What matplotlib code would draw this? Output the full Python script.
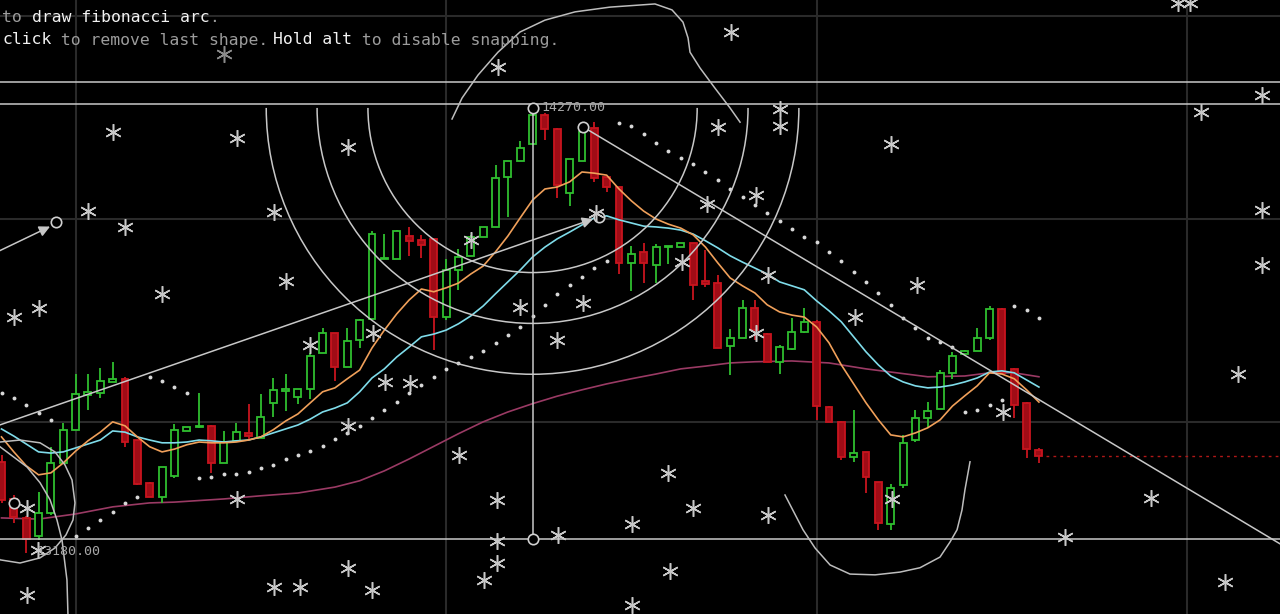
import matplotlib
matplotlib.use('Agg')
import matplotlib.pyplot as plt
from matplotlib.patches import Rectangle, Arc
import numpy as np

# ---------------- data ----------------
opens = [13375, 13281, 13233, 13188, 13246, 13372, 13456, 13544, 13549, 13577,
         13585, 13430, 13322, 13286, 13339, 13453, 13462, 13466, 13372, 13428,
         13448, 13435, 13524, 13554, 13539, 13559, 13650, 13701, 13615, 13683,
         13736, 13888, 13888, 13946, 13936, 13939, 13741, 13860, 13896, 13944,
         13969, 14095, 14136, 14179, 14252, 14217, 14055, 14136, 14219, 14095,
         14070, 13878, 13906, 13873, 13917, 13918, 13928, 13832, 13827, 13668,
         13688, 13764, 13698, 13628, 13660, 13703, 13729, 13514, 13476, 13387,
         13400, 13324, 13218, 13316, 13430, 13486, 13509, 13600, 13648, 13655,
         13688, 13762, 13610, 13524, 13405]
highs = [13392, 13291, 13238, 13299, 13413, 13473, 13597, 13597, 13612, 13628,
         13590, 13431, 13323, 13363, 13471, 13464, 13549, 13468, 13453, 13473,
         13521, 13547, 13587, 13597, 13560, 13650, 13714, 13702, 13714, 13735,
         13959, 13951, 13960, 13969, 13949, 13940, 13888, 13913, 13949, 13970,
         14126, 14137, 14186, 14270, 14257, 14218, 14142, 14234, 14234, 14096,
         14071, 13921, 13928, 13926, 13921, 13929, 13929, 13911, 13848, 13711,
         13784, 13784, 13701, 13670, 13739, 13764, 13734, 13516, 13477, 13506,
         13401, 13325, 13319, 13443, 13506, 13526, 13607, 13653, 13658, 13714,
         13769, 13763, 13611, 13525, 13410]
lows = [13271, 13220, 13145, 13178, 13241, 13369, 13455, 13506, 13537, 13576,
        13413, 13317, 13285, 13271, 13334, 13452, 13461, 13347, 13371, 13427,
        13433, 13434, 13488, 13504, 13521, 13534, 13649, 13580, 13614, 13663,
        13735, 13887, 13887, 13896, 13891, 13658, 13734, 13810, 13895, 13943,
        13968, 13994, 14135, 14178, 14189, 14042, 14022, 14135, 14083, 14057,
        13850, 13807, 13827, 13827, 13875, 13917, 13784, 13817, 13662, 13595,
        13687, 13683, 13627, 13597, 13659, 13701, 13481, 13475, 13380, 13375,
        13296, 13203, 13203, 13309, 13425, 13461, 13508, 13585, 13647, 13654,
        13683, 13599, 13486, 13385, 13372]
closes = [13279, 13236, 13180, 13246, 13372, 13456, 13547, 13552, 13580, 13585,
          13425, 13319, 13286, 13362, 13456, 13463, 13466, 13372, 13425, 13450,
          13440, 13488, 13557, 13559, 13559, 13643, 13701, 13615, 13681, 13734,
          13951, 13891, 13959, 13933, 13923, 13741, 13860, 13893, 13944, 13969,
          14093, 14136, 14169, 14252, 14217, 14075, 14141, 14209, 14093, 14070,
          13878, 13901, 13878, 13918, 13920, 13928, 13822, 13825, 13663, 13688,
          13764, 13708, 13628, 13665, 13703, 13729, 13516, 13476, 13387, 13397,
          13337, 13220, 13309, 13423, 13486, 13504, 13600, 13643, 13655, 13688,
          13762, 13600, 13519, 13407, 13390]

ma_fast = [13438, 13400, 13365, 13342, 13347, 13372, 13402, 13428, 13450, 13476,
           13466, 13438, 13413, 13400, 13407, 13418, 13425, 13423, 13423, 13425,
           13430, 13438, 13456, 13478, 13496, 13524, 13552, 13562, 13585, 13607,
           13663, 13708, 13749, 13784, 13812, 13805, 13815, 13827, 13850, 13870,
           13906, 13946, 13992, 14037, 14065, 14070, 14083, 14108, 14105, 14100,
           14065, 14035, 14009, 13989, 13976, 13966, 13949, 13918, 13878, 13840,
           13820, 13802, 13772, 13754, 13746, 13741, 13716, 13676, 13620, 13572,
           13524, 13481, 13443, 13438, 13448, 13461, 13481, 13516, 13542, 13567,
           13600, 13597, 13585, 13557, 13526]
ma_mid = [13458, 13440, 13420, 13400, 13397, 13400, 13410, 13420, 13430, 13453,
          13450, 13438, 13430, 13423, 13423, 13425, 13430, 13428, 13425, 13428,
          13430, 13438, 13448, 13458, 13468, 13483, 13501, 13511, 13524, 13552,
          13587, 13610, 13640, 13665, 13691, 13698, 13708, 13724, 13744, 13769,
          13800, 13830, 13860, 13893, 13918, 13939, 13956, 13974, 13992, 13997,
          13987, 13979, 13971, 13969, 13966, 13961, 13951, 13934, 13916, 13896,
          13880, 13865, 13850, 13830, 13820, 13810, 13782, 13757, 13729, 13691,
          13653, 13620, 13592, 13577, 13567, 13562, 13564, 13569, 13577, 13587,
          13602, 13605, 13600, 13582, 13564]
ma_long_idx = [0, 3, 6, 9, 12, 14, 18, 21, 24, 27, 29, 31, 33, 35, 37, 39, 41, 43, 45, 47,
               49, 51, 53, 55, 57, 59, 61, 64, 67, 70, 72, 75, 78, 80, 82, 84]
ma_long = [13233, 13230, 13243, 13261, 13271, 13273, 13281, 13289, 13296, 13311,
           13327, 13352, 13382, 13414, 13446, 13476, 13501, 13522, 13541, 13557,
           13572, 13585, 13597, 13610, 13617, 13625, 13628, 13630, 13625, 13610,
           13602, 13590, 13592, 13600, 13600, 13590]
nan = float('nan')
sar = [13549, 13536, 13519, 13498, 13481, nan, 13187, 13208, 13228, 13248,
       13271, 13286, 13590, 13579, 13564, 13549, 13334, 13337, 13344, 13344,
       13349, 13359, 13367, 13382, 13392, 13402, 13415, 13433, 13448, 13466,
       13486, 13506, 13526, 13549, 13569, 13590, 13610, 13625, 13640, 13655,
       13676, 13696, 13716, 13744, 13772, 13800, 13822, 13842, 13865, 13883,
       14232, 14224, 14204, 14181, 14161, 14143, 14128, 14108, 14088, 14065,
       14045, 14025, 14004, 13984, 13964, 13944, 13931, 13906, 13883, 13855,
       13830, 13802, 13772, 13739, 13714, 13688, 13678, 13665, 13501, 13506,
       13519, 13531, 13769, 13759, 13739]

star_x = [40.2, 59.07, 95.26, 96.23, 9.03, 19.07, 28.06, 58.02, 63.04, 63.04, 72.03,
          97.13, 102.07, 7.0, 10.0, 22.06, 61.09, 57.13, 48.14, 102.07, 102.07, 55.1, 62.06,
          23.04, 13.0, 1.01, 3.04, 74.13, 69.11, 41.98, 47.09, 44.98, 30.08, 24.98, 61.09,
          31.05, 33.08, 38.02, 100.12, 81.09, 28.06, 37.05, 2.07, 2.96, 2.07, 19.07, 22.06,
          24.17, 53.97, 40.12, 56.0, 72.11, 62.06, 51.05, 45.06, 40.12, 93.08, 86.12, 40.12,
          39.07, 28.06, 30.0, 54.13, 99.07, 51.05]
star_y = [14374, 14462, 14535, 14535, 14209, 14194, 14171, 14222, 14267, 14224, 14179,
          14260, 14303, 14009, 13969, 14007, 14050, 14027, 14004, 14012, 13873, 13880, 13848,
          13832, 13799, 13741, 13764, 13822, 13741, 13767, 13777, 13683, 13701, 13671, 13701,
          13577, 13574, 13936, 13597, 13501, 13466, 13392, 13258, 13152, 13038, 13281, 13058,
          13058, 13347, 13279, 13258, 13281, 13241, 13218, 13190, 13175, 13284, 13185, 13119,
          13076, 13106, 13051, 13099, 13071, 13013]
dim_star_x = [18.02]
dim_star_y = [14406]

fib_idx = 43
fib_high = 14270
fib_low = 13180
fib_ratios = [0.382, 0.5, 0.618]
hlines = [14336, 14280, 13180]
grid_x = [6, 36, 66, 96]
grid_y = [14503, 13989, 13476]

handle_x = [43, 43, 47.09, 48.38, 4.41, 1.01]
handle_y = [14270, 13180, 14222, 13994, 13982, 13271]

trend1 = ([-2.0, 47.9], [13448, 13989])
trend2 = ([-1.74, 3.93], [13885, 13970])
trend3 = ([47.09, 103.6], [14222, 13166])

curve_top_x = [36.48, 37.29, 38.58, 40.2, 41.98, 44.0, 46.44, 49.27, 52.91, 54.29, 55.18,
               55.59, 55.75, 56.56, 57.77, 58.99, 59.8]
curve_top_y = [14242, 14295, 14353, 14411, 14462, 14492, 14513, 14525, 14533, 14518, 14487,
               14447, 14411, 14371, 14320, 14270, 14234]
curve_bot_x = [63.44, 64.9, 65.87, 67.09, 68.7, 70.73, 72.75, 74.37, 75.99, 76.8, 77.37,
               77.77, 78.01, 78.42]
curve_bot_y = [13291, 13203, 13157, 13114, 13091, 13089, 13096, 13107, 13134, 13172, 13203,
               13253, 13304, 13375]
loop_x = [-1.09, -0.12, 1.5, 3.12, 4.33, 5.14, 5.71, 5.95, 5.79, 5.22, 4.33, 3.12, 1.5,
          -0.12, -1.09]
loop_y = [13418, 13425, 13430, 13423, 13400, 13367, 13329, 13271, 13228, 13190, 13157,
          13132, 13119, 13127, 13165]
tail_x = [-0.93, -0.12, 2.06, 3.12, 3.93, 4.49, 4.9, 5.3, 5.38, 5.38]
tail_y = [13430, 13413, 13362, 13322, 13279, 13228, 13177, 13076, 12990, 12962]

last_price = 13390

# ---------------- figure ----------------
W, H = 1280, 614
fig = plt.figure(figsize=(W / 100, H / 100), dpi=100, facecolor='black')
ax = fig.add_axes([0, 0, 1, 1])
ax.set_facecolor('black')
XL = (-0.1215, 103.52)
YL = (12990, 14543)
ax.set_xlim(*XL)
ax.set_ylim(*YL)
ax.axis('off')

px_x = W / (XL[1] - XL[0])
px_y = H / (YL[1] - YL[0])

GRID = '#2a2a2a'
LINE = '#c8c8c8'
GREEN = '#2fbf2f'
RED_FILL = '#a00c16'
RED_EDGE = '#c8141e'

for gx in grid_x:
    ax.axvline(gx, color=GRID, lw=1.5, zorder=0)
for gy in grid_y:
    ax.axhline(gy, color=GRID, lw=1.5, zorder=0)

# moving averages
ax.plot(ma_long_idx, ma_long, color='#9a3a64', lw=1.2, zorder=2)

# candles
w = 0.56
for i, (o, h, l, c) in enumerate(zip(opens, highs, lows, closes)):
    up = c >= o
    top, bot = max(o, c), min(o, c)
    col = GREEN if up else RED_EDGE
    ax.plot([i, i], [top, h], color=col, lw=1.3, solid_capstyle='butt', zorder=3)
    ax.plot([i, i], [l, bot], color=col, lw=1.3, solid_capstyle='butt', zorder=3)
    ax.add_patch(Rectangle((i - w / 2, bot), w, max(top - bot, 2),
                           facecolor='black' if up else RED_FILL,
                           edgecolor=col, lw=1.3, zorder=3.1))

ax.plot(range(len(ma_mid)), ma_mid, color='#7fdcea', lw=1.2, zorder=4)
ax.plot(range(len(ma_fast)), ma_fast, color='#f0a05a', lw=1.2, zorder=4)

# parabolic SAR dots
ax.plot(range(len(sar)), sar, 'o', ms=2.8, mew=0, color='#d8d8d8', zorder=4)

# last price line
ax.plot([84.6, XL[1]], [last_price, last_price], color='#b01818', lw=1.0,
        ls=(0, (2, 3)), zorder=4)

# drawings
for hy in hlines:
    ax.axhline(hy, color=LINE, lw=1.1, zorder=5)
ax.plot([fib_idx, fib_idx], [fib_low, fib_high], color=LINE, lw=1.1, zorder=5)
rng_px = (fib_high - fib_low) * px_y
for r in fib_ratios:
    rp = r * rng_px
    ax.add_patch(Arc((fib_idx, fib_high), 2 * rp / px_x, 2 * rp / px_y,
                     theta1=180, theta2=360, color=LINE, lw=1.1, zorder=5))

for tr in (trend1, trend2):
    ax.annotate('', xy=(tr[0][1], tr[1][1]), xytext=(tr[0][0], tr[1][0]),
                arrowprops=dict(arrowstyle='-|>', color=LINE, lw=1.1, mutation_scale=16,
                                shrinkA=0, shrinkB=0), zorder=5)
ax.plot(trend3[0], trend3[1], color=LINE, lw=1.1, zorder=5)

for cx, cy in [(curve_top_x, curve_top_y), (curve_bot_x, curve_bot_y),
               (loop_x, loop_y), (tail_x, tail_y)]:
    ax.plot(cx, cy, color='#bdbdbd', lw=1.1, zorder=5, solid_joinstyle='round')

ax.plot(handle_x, handle_y, 'o', ms=7.5, mfc='black', mec='#d0d0d0', mew=1.2, zorder=6)

ax.plot(star_x, star_y, marker=(6, 2, 0), ls='none', ms=12, mew=1.1,
        color='#c8c8c8', zorder=6)
ax.plot(dim_star_x, dim_star_y, marker=(6, 2, 0), ls='none', ms=12, mew=1.1,
        color='#8a8a8a', zorder=6)

# labels
ax.text(43.69, fib_high, '14270.00', color='#a8a8a8', fontsize=9.6,
        family='DejaVu Sans Mono', va='center', ha='left', zorder=7)
ax.text(2.79, 13148, '13180.00', color='#a8a8a8', fontsize=9.6,
        family='DejaVu Sans Mono', va='center', ha='left', zorder=7)

# instructions text
CW = 9.87
GRAY = '#9c9c9c'
WHITE = '#f2f2f2'
def seg(x_px, y_px, s, col):
    fig.text(x_px / W, 1 - y_px / H, s, color=col, fontsize=11.8,
             family='DejaVu Sans Mono', va='center', ha='left')

seg(2, 17, 'to ', GRAY)
seg(2 + 3 * CW, 17, 'draw fibonacci arc', WHITE)
seg(2 + 21 * CW, 17, '.', GRAY)
seg(2, 40, 'click', WHITE)
seg(2 + 5 * CW, 40, ' to remove last shape.', GRAY)
seg(273, 40, 'Hold alt', WHITE)
seg(273 + 8 * CW, 40, ' to disable snapping.', GRAY)

fig.savefig('out.png', dpi=100, facecolor='black')
